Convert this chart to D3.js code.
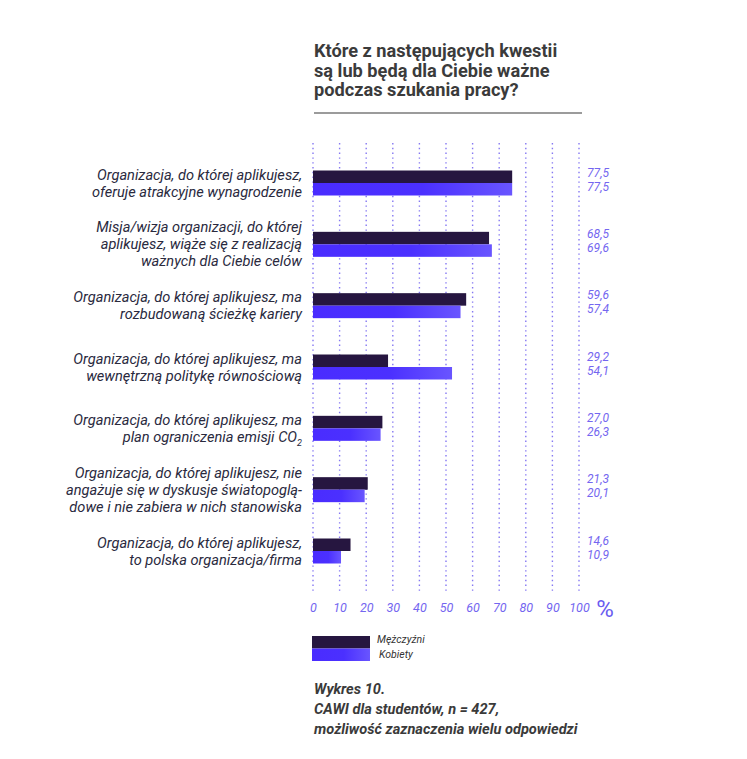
<!DOCTYPE html>
<html>
<head>
<meta charset="utf-8">
<script src="https://cdn.jsdelivr.net/npm/d3@7"></script>
<style>
  body { margin: 0; background: #fff; }
  text { font-family: Roboto, "Noto Sans", sans-serif; }
</style>
</head>
<body>
<svg id="chart" width="747" height="759"></svg>
<script>
// question labels, one entry per line ("_" marks a subscript)
const categories = [
    ["Organizacja, do której aplikujesz,", "oferuje atrakcyjne wynagrodzenie"],
    ["Misja/wizja organizacji, do której", "aplikujesz, wiąże się z realizacją", "ważnych dla Ciebie celów"],
    ["Organizacja, do której aplikujesz, ma", "rozbudowaną ścieżkę kariery"],
    ["Organizacja, do której aplikujesz, ma", "wewnętrzną politykę równościową"],
    ["Organizacja, do której aplikujesz, ma", "plan ograniczenia emisji CO_2"],
    ["Organizacja, do której aplikujesz, nie", "angażuje się w dyskusje światopoglą-", "dowe i nie zabiera w nich stanowiska"],
    ["Organizacja, do której aplikujesz,", "to polska organizacja/firma"]
];
const men = [77.5, 68.5, 59.6, 29.2, 27.0, 21.3, 14.6];
const women = [77.5, 69.6, 57.4, 54.1, 26.3, 20.1, 10.9];
const seriesNames = ["Mężczyźni", "Kobiety"];
const xTicks = [0, 10, 20, 30, 40, 50, 60, 70, 80, 90, 100];
const titleLines = ["Które z następujących kwestii", "są lub będą dla Ciebie ważne", "podczas szukania pracy?"];
const noteLines = ["Wykres 10.", "CAWI dla studentów, n = 427,", "możliwość zaznaczenia wielu odpowiedzi"];

const DARK = "#261640";
const PURPLE_TEXT = "#7466f0";
const BAR_H = 12.5;

const svg = d3.select("#chart");

const defs = svg.append("defs");
const grad = defs.append("linearGradient").attr("id", "blueGrad");
grad.append("stop").attr("offset", "0%").attr("stop-color", "#4a2cff");
grad.append("stop").attr("offset", "55%").attr("stop-color", "#4b30ff");
grad.append("stop").attr("offset", "100%").attr("stop-color", "#6955ff");

// scales
const x = d3.scaleLinear().domain([0, 100]).range([313, 579]);
// bars in the original run a bit short of the grid
const xBar = d3.scaleLinear().domain([0, 100]).range([313, 570]);
const y = d3.scalePoint().domain(d3.range(categories.length)).range([183, 551]);

// title
const title = svg.append("text")
    .attr("x", 314)
    .attr("y", 57)
    .style("font-size", "18.2px")
    .style("font-weight", "bold")
    .attr("fill", "#3b3b3b");
title.selectAll("tspan")
    .data(titleLines)
    .enter()
    .append("tspan")
    .attr("x", 314)
    .attr("dy", (d, i) => i === 0 ? 0 : 19.5)
    .text(d => d);

svg.append("line")
    .attr("x1", 314).attr("x2", 582)
    .attr("y1", 113).attr("y2", 113)
    .attr("stroke", "#7a7a7a")
    .attr("stroke-width", 1.5);

// dotted grid
svg.append("g")
    .selectAll("line")
    .data(xTicks)
    .enter()
    .append("line")
    .attr("x1", d => x(d)).attr("x2", d => x(d))
    .attr("y1", 143).attr("y2", 594)
    .attr("stroke", "#8578f2")
    .attr("stroke-width", 1.4)
    .attr("stroke-dasharray", "1.4,3.4");

// bars
const rows = svg.append("g")
    .selectAll("g")
    .data(categories)
    .enter()
    .append("g");

rows.append("rect")
    .attr("x", xBar(0))
    .attr("y", (d, i) => y(i) - BAR_H)
    .attr("width", (d, i) => xBar(men[i]) - xBar(0))
    .attr("height", BAR_H)
    .attr("fill", DARK);

rows.append("rect")
    .attr("x", xBar(0))
    .attr("y", (d, i) => y(i))
    .attr("width", (d, i) => xBar(women[i]) - xBar(0))
    .attr("height", BAR_H)
    .attr("fill", "url(#blueGrad)");

// category labels
const LINE_H = 17;
rows.append("text")
    .attr("text-anchor", "end")
    .style("font-size", "14.6px")
    .style("font-style", "italic")
    .attr("fill", "#2a2a3e")
    .each(function (lines, i) {
        const t = d3.select(this);
        const top = y(i) - (lines.length - 1) * LINE_H / 2 + 5;
        lines.forEach((line, k) => {
            const parts = line.split("_");
            t.append("tspan").attr("x", 302).attr("y", top + k * LINE_H).text(parts[0]);
            if (parts.length > 1) {
                t.append("tspan")
                    .attr("dy", 4)
                    .style("font-size", "9px")
                    .text(parts[1]);
            }
        });
    });

// values
const fmt = v => d3.format(".1f")(v).replace(".", ",");
rows.append("text")
    .attr("x", 609)
    .attr("y", (d, i) => y(i) - 6.5)
    .attr("text-anchor", "end")
    .style("font-size", "12px")
    .style("font-style", "italic")
    .attr("fill", PURPLE_TEXT)
    .text((d, i) => fmt(men[i]));
rows.append("text")
    .attr("x", 609)
    .attr("y", (d, i) => y(i) + 7.8)
    .attr("text-anchor", "end")
    .style("font-size", "12px")
    .style("font-style", "italic")
    .attr("fill", PURPLE_TEXT)
    .text((d, i) => fmt(women[i]));

// x axis
const axis = svg.append("g")
    .attr("transform", "translate(0, 612)")
    .call(d3.axisBottom(x).tickValues(xTicks).tickSize(0).tickPadding(0));
axis.select(".domain").remove();
axis.selectAll("text")
    .attr("y", 0)
    .attr("dy", 0)
    .attr("fill", PURPLE_TEXT)
    .style("font-family", "Roboto, sans-serif")
    .style("font-size", "12.5px")
    .style("font-style", "italic");

svg.append("text")
    .attr("x", 605)
    .attr("y", 617)
    .attr("text-anchor", "middle")
    .style("font-size", "24px")
    .attr("fill", "#6a5cf0")
    .text("%");

// legend
const legend = svg.append("g").attr("transform", "translate(312, 636)");
legend.selectAll("rect")
    .data(seriesNames)
    .enter()
    .append("rect")
    .attr("x", 0)
    .attr("y", (d, i) => i * 12.5)
    .attr("width", 58)
    .attr("height", 12.5)
    .attr("fill", (d, i) => i === 0 ? DARK : "url(#blueGrad)");
legend.selectAll("text")
    .data(seriesNames)
    .enter()
    .append("text")
    .attr("x", (d, i) => 65 + i * 2)
    .attr("y", (d, i) => 7 + i * 15)
    .style("font-size", "10.5px")
    .style("font-style", "italic")
    .attr("fill", "#333")
    .text(d => d);

// footnote
svg.append("g")
    .selectAll("text")
    .data(noteLines)
    .enter()
    .append("text")
    .attr("x", 314)
    .attr("y", (d, i) => 694 + i * 20)
    .style("font-size", "14.6px")
    .style("font-style", "italic")
    .style("font-weight", "bold")
    .attr("fill", "#3a3a3a")
    .text(d => d);
</script>
</body>
</html>
